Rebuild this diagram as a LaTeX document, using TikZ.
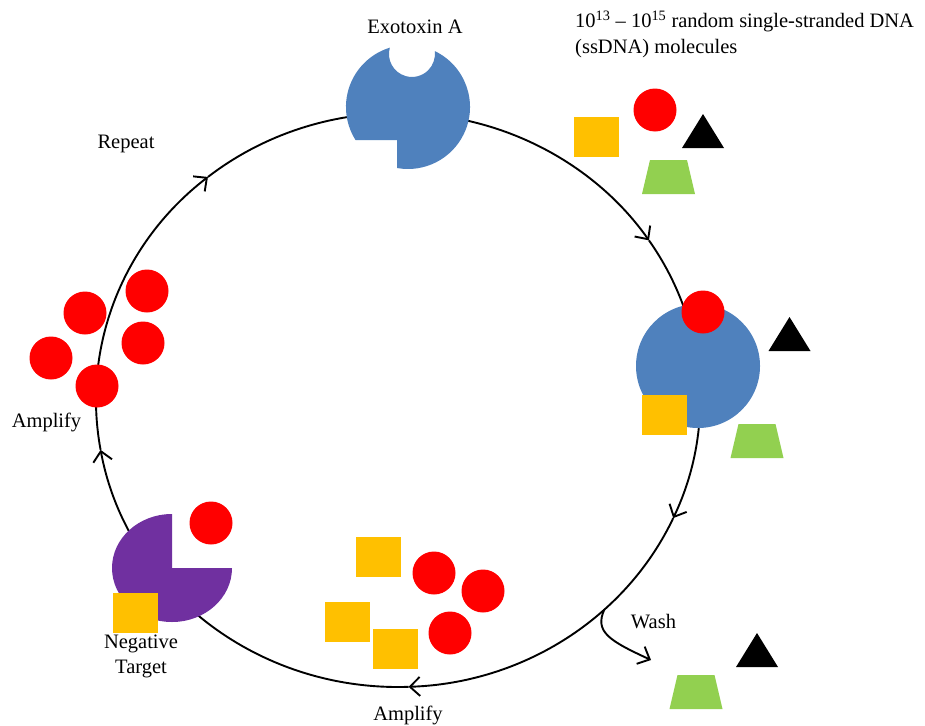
\documentclass[tikz,border=0pt]{standalone}
\usepackage{fontspec}
\setmainfont{Liberation Serif}
\usetikzlibrary{arrows.meta}
\definecolor{toxblue}{HTML}{4F81BD}
\definecolor{aptred}{HTML}{FF0000}
\definecolor{aptyellow}{HTML}{FFC000}
\definecolor{aptgreen}{HTML}{92D050}
\definecolor{negpurple}{HTML}{7030A0}
\tikzset{
  cycleline/.style={line width=1.9pt, -{Straight Barb[length=10pt,width=19pt,line width=1.9pt]}},
  reddot/.style={circle, fill=aptred, minimum size=43pt, inner sep=0pt},
  yellowsq/.style={rectangle, fill=aptyellow, minimum width=45pt, minimum height=40pt, inner sep=0pt},
  lbl/.style={inner sep=0pt, anchor=base},
  tri/.pic={\fill[black] (-21,0) -- (21,0) -- (0,-34) -- cycle;},
  trap/.pic={\fill[aptgreen] (-26.5,0) -- (26.5,0) -- (18.5,-34) -- (-18.5,-34) -- cycle;}
}
\begin{document}
\begin{tikzpicture}[x=1pt, y=-1pt, font=\fontsize{20.5}{25}\selectfont]
\useasboundingbox (0,0) rectangle (925,725);
\fill[white] (0,0) rectangle (925,725);

% selection cycle: ellipse split at the arrow positions
\coordinate (ctr) at (398,400);
\coordinate (pRepeat) at ({398+302*cos(-129)},{400+287*sin(-129)});
\coordinate (pBind)   at ({398+302*cos(-33.8)},{400+287*sin(-33.8)});
\coordinate (pElute)  at ({398+302*cos(24.3)},{400+287*sin(24.3)});
\coordinate (pAmpB)   at ({398+302*cos(88)},{400+287*sin(88)});
\coordinate (pAmpL)   at ({398+302*cos(170)},{400+287*sin(170)});
\coordinate (pWash)   at ({398+302*cos(46.9)},{400+287*sin(46.9)});
\coordinate (wEnd) at (651,660);

\draw[cycleline] (pRepeat) arc[start angle=-129, end angle=-33.8, x radius=302, y radius=287];
\draw[cycleline] (pBind) arc[start angle=-33.8, end angle=24.3, x radius=302, y radius=287];
\draw[cycleline] (pElute) arc[start angle=24.3, end angle=88, x radius=302, y radius=287];
\draw[cycleline] (pAmpB) arc[start angle=88, end angle=170, x radius=302, y radius=287];
\draw[cycleline] (pAmpL) arc[start angle=170, end angle=231, x radius=302, y radius=287];

% wash-out branch
\draw[cycleline] (pWash) .. controls (594,632) and (610,641) .. (wEnd);

% Exotoxin A target with binding notch and cut corner
\fill[toxblue] (408,107) ++(-64.4:62) arc[start angle=-64.4, end angle=100.2, radius=62]
  -- (397,140) -- (355.5,140) arc[start angle=147.8, end angle=253.0, radius=62]
  arc[start angle=195.9, end angle=-7.25, radius=23] -- cycle;
\node[lbl] (exoLabel) at (415,34) {Exotoxin A};

% random ssDNA library
\node[inner sep=0pt, anchor=base west, align=left] (libLabel) at (575,53)
  {10\textsuperscript{13} – 10\textsuperscript{15} random single-stranded DNA\\(ssDNA) molecules};
\node[yellowsq] (libSq) at (596,137) {};
\node[reddot] (libDot) at (655,110) {};
\pic at (703,148) {tri};
\pic at (668.5,194) {trap};

% binding to the target
\node[circle, fill=toxblue, minimum size=124pt, inner sep=0pt] (target) at (698,366) {};
\node[reddot] (boundDot) at (703,312) {};
\node[yellowsq] (boundSq) at (664.5,414.5) {};
\pic at (789.5,351) {tri};
\pic at (757,458) {trap};

% washed away
\node[lbl] (washLabel) at (653.5,628) {Wash};
\pic at (757,667) {tri};
\pic at (696,709) {trap};

% amplified pool
\node[yellowsq] (ampSq1) at (378.5,557) {};
\node[yellowsq] (ampSq2) at (347,622) {};
\node[yellowsq] (ampSq3) at (395.5,648.5) {};
\node[reddot] (ampDot1) at (434,573) {};
\node[reddot] (ampDot2) at (483,591) {};
\node[reddot] (ampDot3) at (450,633) {};
\node[lbl] (ampLabelB) at (408,720) {Amplify};

% counter selection
\fill[negpurple] (172,568) -- (232,568) arc[start angle=0, end angle=270, x radius=60, y radius=54] -- cycle;
\node[reddot] (negDot) at (211,523) {};
\node[yellowsq] (negSq) at (135.5,612.5) {};
\node[lbl, align=center] (negLabel) at (141,673) {Negative\\Target};

% enriched pool
\node[reddot] (enDot1) at (85,313) {};
\node[reddot] (enDot2) at (147,291) {};
\node[reddot] (enDot3) at (51,358) {};
\node[reddot] (enDot4) at (143,343) {};
\node[reddot] (enDot5) at (97,386) {};
\node[lbl] (ampLabelL) at (46.5,427) {Amplify};
\node[lbl] (repLabel) at (126,148) {Repeat};
\end{tikzpicture}
\end{document}
